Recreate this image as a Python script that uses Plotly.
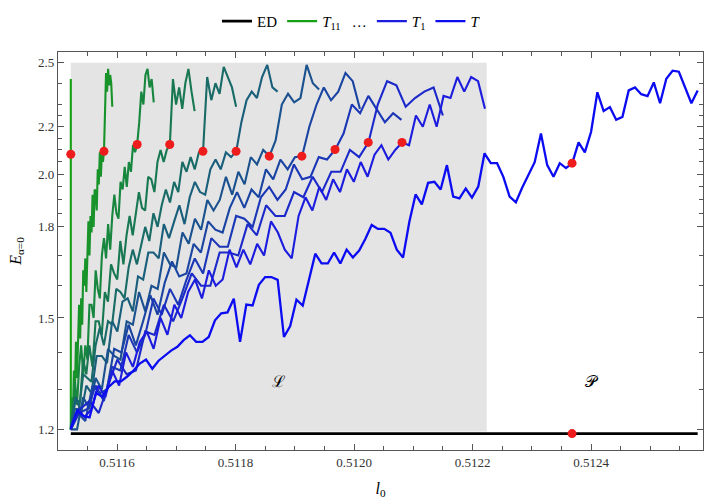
import numpy as np
import plotly.graph_objects as go

# ---------------- data ----------------
L0_START = 0.511522

# T_11 ... T_1 : last sampled l0 of each curve, and the sampled energies
curve_labels = ["T11", "T10", "T9", "T8", "T7", "T6", "T5", "T4", "T3", "T2", "T1"]
curve_l0_end = [0.511522, 0.511592, 0.511662, 0.511731, 0.511801, 0.511871,
                0.511941, 0.512010, 0.512080, 0.512150, 0.512221]

E_T11 = [1.20, 1.27, 1.23, 1.35, 1.31, 1.44, 1.39, 1.55, 1.50, 1.66, 1.62, 1.80, 1.74,
         1.93, 1.88, 2.05, 2.082, 2.30, 2.25, 2.42, 2.36]
E_T10 = [1.20, 1.28, 1.23, 1.35, 1.30, 1.43, 1.33, 1.44, 1.54, 1.44,
         1.56, 1.48, 1.65, 1.60, 1.69, 1.58, 1.72, 1.82, 1.70, 1.84,
         1.78, 1.92, 1.80, 1.94, 1.93, 1.86, 2.02, 1.96, 2.09, 1.99,
         2.09, 2.05, 2.094, 2.31, 2.45, 2.36, 2.47, 2.39, 2.44, 2.40, 2.29]
E_T9 = [1.20, 1.22, 1.32, 1.26, 1.36, 1.42, 1.34, 1.42, 1.38, 1.54,
        1.54, 1.50, 1.65, 1.59, 1.56, 1.70, 1.76, 1.69, 1.81, 1.72,
        1.84, 1.92, 1.85, 1.83, 1.97, 1.94, 2.03, 1.95, 2.05, 2.01,
        2.12, 2.09, 2.123, 2.22, 2.36, 2.30, 2.44, 2.47, 2.38, 2.42, 2.31]
E_T8 = [1.20, 1.28, 1.27, 1.27, 1.38, 1.34, 1.42, 1.36, 1.49, 1.49,
        1.45, 1.58, 1.55, 1.67, 1.64, 1.62, 1.75, 1.67, 1.77, 1.84,
        1.77, 1.85, 1.93, 1.87, 1.86, 1.99, 1.98, 1.93, 2.05, 2.10,
        2.05, 2.10, 2.123, 2.42, 2.30, 2.38, 2.28, 2.40, 2.47, 2.36, 2.27]
E_T7 = [1.20, 1.25, 1.25, 1.34, 1.33, 1.32, 1.42, 1.47, 1.42, 1.49,
        1.48, 1.59, 1.58, 1.56, 1.66, 1.72, 1.67, 1.73, 1.80, 1.75,
        1.85, 1.80, 1.88, 1.94, 1.89, 1.97, 1.93, 2.05, 2.01, 2.07,
        2.02, 2.09, 2.094, 2.43, 2.32, 2.40, 2.35, 2.48, 2.43, 2.38, 2.29]
E_T6 = [1.20, 1.28, 1.24, 1.31, 1.29, 1.39, 1.39, 1.37, 1.49, 1.46,
        1.55, 1.56, 1.52, 1.63, 1.62, 1.71, 1.71, 1.69, 1.81, 1.76,
        1.82, 1.88, 1.81, 1.91, 1.97, 1.93, 1.92, 2.02, 2.06, 2.02,
        2.09, 2.07, 2.094, 2.22, 2.32, 2.36, 2.33, 2.43, 2.49, 2.38, 2.36]
E_T5 = [1.20, 1.20, 1.28, 1.25, 1.33, 1.30, 1.41, 1.39, 1.38, 1.49,
        1.48, 1.58, 1.52, 1.60, 1.59, 1.71, 1.67, 1.66, 1.78, 1.74,
        1.83, 1.79, 1.90, 1.86, 1.90, 1.99, 1.92, 2.01, 1.96, 2.07,
        2.04, 2.10, 2.074, 2.14, 2.30, 2.35, 2.31, 2.33, 2.49, 2.40, 2.37]
E_T4 = [1.20, 1.24, 1.22, 1.31, 1.29, 1.30, 1.41, 1.40, 1.48, 1.42,
        1.49, 1.57, 1.51, 1.61, 1.68, 1.63, 1.64, 1.74, 1.71, 1.82,
        1.79, 1.78, 1.87, 1.93, 1.87, 1.94, 1.91, 2.02, 1.98, 2.06,
        2.02, 2.07, 2.074, 2.20, 2.30, 2.38, 2.32, 2.36, 2.45, 2.41, 2.28]
E_T3 = [1.20, 1.24, 1.25, 1.31, 1.27, 1.36, 1.35, 1.45, 1.40, 1.45,
        1.56, 1.51, 1.59, 1.54, 1.62, 1.69, 1.64, 1.76, 1.73, 1.73,
        1.84, 1.83, 1.80, 1.91, 1.95, 1.90, 1.94, 2.04, 1.98, 1.99,
        2.07, 2.06, 2.102, 2.17, 2.30, 2.26, 2.34, 2.28, 2.22, 2.26, 2.23]
E_T2 = [1.20, 1.25, 1.27, 1.24, 1.31, 1.38, 1.34, 1.35, 1.46, 1.45,
        1.54, 1.49, 1.56, 1.64, 1.60, 1.60, 1.71, 1.71, 1.70, 1.81,
        1.77, 1.88, 1.84, 1.84, 1.93, 1.91, 1.99, 1.93, 2.01, 2.01,
        2.10, 2.07, 2.132, 2.30, 2.41, 2.39, 2.29, 2.33, 2.36, 2.38, 2.25]
E_T1 = [1.20, 1.25, 1.23, 1.25, 1.31, 1.28, 1.35, 1.31, 1.40, 1.36,
        1.43, 1.46, 1.41, 1.50, 1.45, 1.54, 1.50, 1.58, 1.62, 1.56,
        1.65, 1.60, 1.62, 1.72, 1.66, 1.72, 1.67, 1.74, 1.70, 1.82,
        1.78, 1.72, 1.69, 1.84, 1.91, 1.86, 1.95, 1.90, 1.98, 1.93,
        2.02, 1.97, 2.05, 1.99, 2.08, 2.12, 2.06, 2.10, 2.132,
        2.12, 2.25, 2.20, 2.30, 2.20, 2.34, 2.33, 2.43, 2.36, 2.43, 2.41, 2.28]
curve_E = [E_T11, E_T10, E_T9, E_T8, E_T7, E_T6, E_T5, E_T4, E_T3, E_T2, E_T1]

# full curve T
T_l0_end = 0.512580
E_T = [1.203, 1.246, 1.233, 1.229, 1.291, 1.281, 1.306, 1.321, 1.321, 1.334,
       1.350, 1.369, 1.380, 1.355, 1.377, 1.391, 1.405, 1.416, 1.435, 1.449,
       1.430, 1.430, 1.444, 1.493, 1.514, 1.517, 1.559, 1.430, 1.541, 1.538,
       1.603, 1.628, 1.628, 1.619, 1.444, 1.476, 1.556, 1.538, 1.622, 1.706,
       1.673, 1.673, 1.710, 1.673, 1.720, 1.693, 1.717, 1.758, 1.807, 1.793,
       1.793, 1.779, 1.720, 1.693, 1.818, 1.921, 1.883, 1.966, 1.970, 1.940,
       2.037, 1.913, 1.906, 1.944, 1.909, 1.951, 2.086, 2.045, 2.045, 1.990,
       1.913, 1.891, 1.947, 1.998, 2.049, 2.170, 2.037, 1.990, 2.045, 2.025,
       2.045, 2.132, 2.090, 2.178, 2.357, 2.270, 2.288, 2.231, 2.244, 2.366,
       2.380, 2.348, 2.339, 2.404, 2.306, 2.422, 2.461, 2.456, 2.376, 2.306,
       2.366]

# exact diagonalisation level
ed_l0 = [0.511522, 0.512580]
ed_E = [1.19, 1.19]

# marked points (T_11 ... T_1, T) and the one on ED
dot_l0 = [0.511522, 0.511578, 0.511634, 0.511689, 0.511745, 0.511801,
          0.511857, 0.511912, 0.511968, 0.512024, 0.512081, 0.512368]
dot_E = [2.082, 2.094, 2.123, 2.123, 2.094, 2.094, 2.074, 2.074, 2.102,
         2.132, 2.132, 2.045]
ed_dot_l0 = [0.512368]
ed_dot_E = [1.19]

# shaded region L
region_l0 = [0.511522, 0.512224]
region_E = [1.195, 2.5]

x_ticks = [0.5116, 0.5118, 0.5120, 0.5122, 0.5124]
y_ticks = [1.2, 1.5, 1.8, 2.0, 2.2, 2.5]
y_minor = [1.3, 1.4, 1.6, 1.7, 1.85, 1.9, 1.95, 2.05, 2.1, 2.15, 2.25, 2.3, 2.4]

# ---------------- style ----------------
curve_colors = ["#16a016", "#17932a", "#17863e", "#187852", "#186b66", "#195e7a",
                "#1a518e", "#1a44a2", "#1b36b6", "#1b29ca", "#1c1cde"]
T_color = "#0c0cf2"
SERIF = "'Liberation Serif', 'DejaVu Serif', serif"

fig = go.Figure()

fig.add_shape(type="rect", xref="x", yref="y",
              x0=region_l0[0], x1=region_l0[1], y0=region_E[0], y1=region_E[1],
              fillcolor="#e4e4e4", line_width=0, layer="below")

fig.add_trace(go.Scatter(x=ed_l0, y=ed_E, mode="lines", name="ED",
                         line=dict(color="black", width=2.6), legendrank=1))

legend_names = {"T11": "<i>T</i><sub>11</sub>   …", "T1": "<i>T</i><sub>1</sub>"}
for lab, end, vals, col in zip(curve_labels, curve_l0_end, curve_E, curve_colors):
    xs = np.linspace(L0_START, end, len(vals))
    fig.add_trace(go.Scatter(
        x=xs, y=vals, mode="lines",
        name=legend_names.get(lab, lab),
        showlegend=lab in legend_names,
        legendrank=2 if lab == "T11" else 3,
        line=dict(color=col, width=2.1)))

fig.add_trace(go.Scatter(x=np.linspace(L0_START, T_l0_end, len(E_T)), y=E_T,
                         mode="lines", name="<i>T</i>", legendrank=4,
                         line=dict(color=T_color, width=2.3)))

fig.add_trace(go.Scatter(x=dot_l0 + ed_dot_l0, y=dot_E + ed_dot_E, mode="markers",
                         showlegend=False,
                         marker=dict(color="#ee1c1c", size=9, line_width=0)))

fig.add_annotation(x=0.511872, y=np.log10(1.32), text="ℒ", showarrow=False,
                   font=dict(family="'DejaVu Serif', serif", size=16, color="black"))
fig.add_annotation(x=0.512402, y=np.log10(1.32), text="𝒫", showarrow=False,
                   font=dict(family="'DejaVu Serif', serif", size=16, color="black"))

axis_common = dict(showgrid=False, zeroline=False, showline=True, linecolor="#555",
                   linewidth=1.2, mirror="ticks", ticks="inside", tickcolor="#555",
                   tickfont=dict(family=SERIF, size=13, color="#333"))

fig.update_layout(
    width=708, height=499,
    margin=dict(l=58, r=5, t=45, b=49),
    paper_bgcolor="white", plot_bgcolor="white",
    font=dict(family=SERIF, color="black"),
    showlegend=True,
    legend=dict(orientation="h", x=0.455, xanchor="center", y=1.077, yanchor="middle",
                font=dict(family=SERIF, size=15), itemwidth=30,
                bgcolor="rgba(0,0,0,0)", traceorder="normal"),
    xaxis=dict(range=[0.5115004, 0.512589], tickvals=x_ticks,
               ticktext=[f"{v:.4f}" for v in x_ticks], ticklen=6,
               minor=dict(tickmode="linear", dtick=0.00005, tick0=0.5116,
                          ticks="inside", ticklen=3.5, tickcolor="#555"),
               title=dict(text="<i>l</i><sub>0</sub>", standoff=14,
                          font=dict(family=SERIF, size=16)),
               **axis_common),
    yaxis=dict(type="log", range=[np.log10(1.1515), np.log10(2.555)],
               tickvals=y_ticks, ticktext=[f"{v:.1f}" for v in y_ticks], ticklen=6,
               minor=dict(tickmode="array", tickvals=y_minor, ticks="inside",
                          ticklen=3.5, tickcolor="#555"),
               title=dict(text="<i>E</i><sub>α=0</sub>", standoff=12,
                          font=dict(family=SERIF, size=16)),
               **axis_common),
)

fig.write_html("out.html")
